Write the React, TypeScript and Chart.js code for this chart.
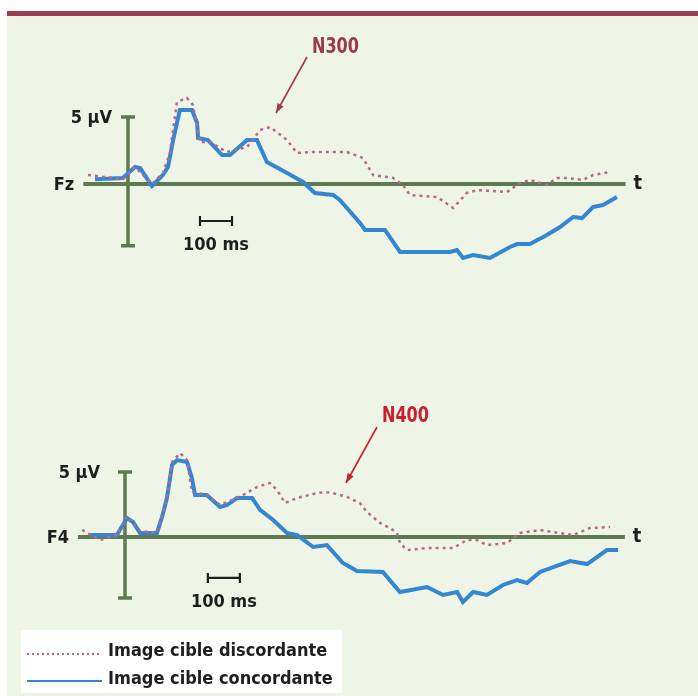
import React, { useEffect, useRef } from "react";
import { Chart, registerables } from "chart.js";
Chart.register(...registerables);

// ---- data (time in ms, amplitude in µV) ----
const topBlueTimes = [-103, -16, 22, 38, 75, 109, 125, 141, 162, 200, 216, 219, 250, 294, 319, 372, 403, 434, 497, 547, 584, 641, 662, 725, 741, 803, 850, 1006, 1028, 1047, 1078, 1131, 1194, 1216, 1256, 1309, 1350, 1391, 1419, 1453, 1484, 1528];
const topBlueValues = [0.35, 0.45, 1.27, 1.19, -0.15, 0.67, 1.27, 3.28, 5.52, 5.52, 4.55, 3.43, 3.28, 2.16, 2.16, 3.28, 3.28, 1.64, 0.82, 0.15, -0.67, -0.82, -1.19, -2.91, -3.43, -3.43, -5.07, -5.07, -4.93, -5.52, -5.3, -5.52, -4.7, -4.48, -4.48, -3.81, -3.21, -2.46, -2.54, -1.72, -1.57, -0.97];

const topPinkTimes = [-125, -16, 22, 75, 109, 131, 153, 184, 203, 225, 256, 309, 372, 413, 444, 497, 528, 578, 641, 684, 734, 766, 828, 859, 881, 966, 1016, 1059, 1091, 1184, 1225, 1256, 1309, 1341, 1372, 1422, 1453, 1506];
const topPinkValues = [0.67, 0.37, 1.27, 0, 0.82, 2.31, 6.12, 6.42, 5.9, 3.13, 3.13, 2.39, 2.76, 4.03, 4.25, 3.28, 2.31, 2.39, 2.39, 2.39, 1.94, 0.67, 0.45, -0.07, -0.82, -0.97, -1.79, -0.67, -0.45, -0.6, 0.07, 0.3, -0.07, 0.45, 0.45, 0.3, 0.67, 0.9];

const botBlueTimes = [-109, -25, 6, 25, 47, 100, 116, 131, 147, 163, 194, 209, 219, 256, 297, 319, 350, 397, 422, 463, 506, 538, 588, 631, 681, 725, 806, 859, 944, 994, 1038, 1056, 1088, 1131, 1181, 1225, 1256, 1297, 1391, 1444, 1506, 1541];
const botBlueValues = [0.15, 0.15, 1.46, 1.15, 0.31, 0.31, 1.54, 3.0, 5.54, 5.92, 5.77, 4.54, 3.23, 3.23, 2.31, 2.46, 3.0, 3.0, 2.08, 1.31, 0.31, 0.15, -0.77, -0.62, -2.0, -2.62, -2.69, -4.23, -3.85, -4.46, -4.23, -5.0, -4.23, -4.46, -3.69, -3.31, -3.54, -2.69, -1.85, -2.08, -1.0, -1.0];

const botPinkTimes = [-134, -78, -25, 6, 47, 100, 131, 147, 172, 194, 209, 256, 297, 369, 413, 453, 475, 500, 538, 600, 625, 650, 694, 734, 756, 797, 828, 850, 859, 881, 944, 1025, 1069, 1100, 1131, 1194, 1234, 1297, 1338, 1400, 1453, 1516];
const botPinkValues = [0.54, -0.23, 0.15, 1.6, 0.46, 0.31, 3.0, 5.77, 6.46, 5.92, 3.46, 3.23, 2.46, 3.23, 3.85, 4.15, 3.62, 2.62, 3.0, 3.38, 3.46, 3.38, 3.08, 2.62, 1.92, 1.08, 0.69, 0.31, -0.46, -1.0, -0.85, -0.85, -0.23, -0.23, -0.62, -0.46, 0.31, 0.54, 0.38, 0.15, 0.69, 0.77];

// axis extents and labels
const topBaseline = [-140, 1555];
const botBaseline = [-147, 1562];
const topVAxis = [5, -4.6];
const botVAxis = [5, -4.7];
const topScaleBar = [225, 325];
const botScaleBar = [259, 359];
const topScaleBarLevel = -2.76;
const botScaleBarLevel = -3.15;
const channelLabels = ["Fz", "F4"];
const peakLabels = ["N300", "N400"];
const legendLabels = ["Image cible discordante", "Image cible concordante"];
const ampLabel = "5 µV";
const timeLabel = "100 ms";

// ---- layout (page pixels) ----
const W = 698;
const H = 696;
const MS_PX = 0.32;
const TOP = { zeroX: 128, zeroY: 184, uvPx: 13.4 };
const BOT = { zeroX: 125, zeroY: 537, uvPx: 13.0 };

const BLUE = "#3386cf";
const PINK = "#b8688e";
const GREEN = "#5d7b50";
const INK = "#1e1e1e";
const FONT = '"DejaVu Sans Condensed", "DejaVu Sans", sans-serif';

const pts = (t: number[], v: number[]) => t.map((x, i) => ({ x, y: v[i] }));

const overlay = {
  id: "overlay",
  beforeDraw(chart: any) {
    const ctx = chart.ctx;
    ctx.save();
    ctx.fillStyle = "#ffffff";
    ctx.fillRect(0, 0, W, H);
    ctx.fillStyle = "#973f4d";
    ctx.fillRect(7, 11, W - 7, 5);
    ctx.fillStyle = "#eef5e6";
    ctx.fillRect(7, 16, W - 7, H - 16);
    ctx.restore();
  },
  beforeDatasetsDraw(chart: any) {
    const ctx = chart.ctx;
    const s = chart.scales;
    const panels = [
      { xs: s.xTop, ys: s.yTop, base: topBaseline, v: topVAxis },
      { xs: s.xBot, ys: s.yBot, base: botBaseline, v: botVAxis },
    ];
    ctx.save();
    ctx.strokeStyle = GREEN;
    ctx.lineCap = "butt";
    for (const p of panels) {
      const y0 = p.ys.getPixelForValue(0);
      const x0 = p.xs.getPixelForValue(0);
      ctx.lineWidth = 4;
      ctx.beginPath();
      ctx.moveTo(p.xs.getPixelForValue(p.base[0]), y0);
      ctx.lineTo(p.xs.getPixelForValue(p.base[1]), y0);
      ctx.stroke();
      const yt = p.ys.getPixelForValue(p.v[0]);
      const yb = p.ys.getPixelForValue(p.v[1]);
      ctx.lineWidth = 3.5;
      ctx.beginPath();
      ctx.moveTo(x0, yt);
      ctx.lineTo(x0, yb);
      ctx.moveTo(x0 - 7, yt);
      ctx.lineTo(x0 + 7, yt);
      ctx.moveTo(x0 - 7, yb);
      ctx.lineTo(x0 + 7, yb);
      ctx.stroke();
    }
    ctx.restore();
  },
  afterDatasetsDraw(chart: any) {
    const ctx = chart.ctx;
    const s = chart.scales;
    const panels = [
      { xs: s.xTop, ys: s.yTop, base: topBaseline, v: topVAxis, bar: topScaleBar, barV: topScaleBarLevel, ch: channelLabels[0], ampDx: 16 },
      { xs: s.xBot, ys: s.yBot, base: botBaseline, v: botVAxis, bar: botScaleBar, barV: botScaleBarLevel, ch: channelLabels[1], ampDx: 25 },
    ];
    ctx.save();
    ctx.fillStyle = INK;
    ctx.strokeStyle = INK;
    ctx.textBaseline = "middle";
    for (const p of panels) {
      const y0 = p.ys.getPixelForValue(0);
      const x0 = p.xs.getPixelForValue(0);
      const xl = p.xs.getPixelForValue(p.base[0]);
      const xr = p.xs.getPixelForValue(p.base[1]);
      ctx.font = `bold 18px ${FONT}`;
      ctx.textAlign = "right";
      ctx.fillText(p.ch, xl - 9, y0 + 1);
      ctx.fillText(ampLabel, x0 - p.ampDx, p.ys.getPixelForValue(p.v[0]) + 1);
      ctx.textAlign = "left";
      ctx.font = `bold 20px ${FONT}`;
      ctx.fillText("t", xr + 8, y0);
      // scale bar
      const bx1 = p.xs.getPixelForValue(p.bar[0]);
      const bx2 = p.xs.getPixelForValue(p.bar[1]);
      const by = p.ys.getPixelForValue(p.barV);
      ctx.lineWidth = 2.2;
      ctx.beginPath();
      ctx.moveTo(bx1, by);
      ctx.lineTo(bx2, by);
      ctx.moveTo(bx1, by - 5);
      ctx.lineTo(bx1, by + 5);
      ctx.moveTo(bx2, by - 5);
      ctx.lineTo(bx2, by + 5);
      ctx.stroke();
      ctx.font = `bold 18px ${FONT}`;
      ctx.textAlign = "center";
      ctx.fillText(timeLabel, (bx1 + bx2) / 2, by + 24);
    }
    // peak annotations
    const arrows = [
      { text: peakLabels[0], color: "#9a3b4b", tx: 312, ty: 48, x1: 307, y1: 57, x2: 276, y2: 113 },
      { text: peakLabels[1], color: "#c8202c", tx: 382, ty: 417, x1: 377, y1: 427, x2: 346, y2: 483 },
    ];
    for (const a of arrows) {
      ctx.fillStyle = a.color;
      ctx.strokeStyle = a.color;
      ctx.font = `bold 21px ${FONT}`;
      ctx.textAlign = "left";
      ctx.save();
      ctx.translate(a.tx, a.ty);
      ctx.scale(0.85, 1);
      ctx.fillText(a.text, 0, 0);
      ctx.restore();
      ctx.lineWidth = 1.6;
      ctx.beginPath();
      ctx.moveTo(a.x1, a.y1);
      ctx.lineTo(a.x2, a.y2);
      ctx.stroke();
      const ang = Math.atan2(a.y2 - a.y1, a.x2 - a.x1);
      const L = 10;
      ctx.beginPath();
      ctx.moveTo(a.x2, a.y2);
      ctx.lineTo(a.x2 - L * Math.cos(ang - 0.35), a.y2 - L * Math.sin(ang - 0.35));
      ctx.lineTo(a.x2 - L * Math.cos(ang + 0.35), a.y2 - L * Math.sin(ang + 0.35));
      ctx.closePath();
      ctx.fill();
    }
    // legend
    ctx.fillStyle = "#ffffff";
    ctx.fillRect(21, 630, 321, 63);
    ctx.lineWidth = 2;
    ctx.strokeStyle = PINK;
    ctx.setLineDash([2, 3]);
    ctx.beginPath();
    ctx.moveTo(27, 654);
    ctx.lineTo(101, 654);
    ctx.stroke();
    ctx.setLineDash([]);
    ctx.strokeStyle = BLUE;
    ctx.beginPath();
    ctx.moveTo(27, 681);
    ctx.lineTo(102, 681);
    ctx.stroke();
    ctx.fillStyle = INK;
    ctx.font = `bold 18px ${FONT}`;
    ctx.textAlign = "left";
    ctx.fillText(legendLabels[0], 108, 651);
    ctx.fillText(legendLabels[1], 108, 679);
    ctx.restore();
  },
};

export default function App() {
  const ref = useRef<HTMLCanvasElement>(null);
  useEffect(() => {
    document.body.style.margin = "0";
    document.body.style.overflow = "hidden";
    if (!ref.current) return;
    const lin = (zero: number, pxPer: number, size: number) => ({ min: -zero / pxPer, max: (size - zero) / pxPer });
    const xTop = lin(TOP.zeroX, MS_PX, W);
    const xBot = lin(BOT.zeroX, MS_PX, W);
    const yTop = { min: -(H - TOP.zeroY) / TOP.uvPx, max: TOP.zeroY / TOP.uvPx };
    const yBot = { min: -(H - BOT.zeroY) / BOT.uvPx, max: BOT.zeroY / BOT.uvPx };
    const hidden = { display: false, grid: { display: false } };
    const chart = new Chart(ref.current, {
      type: "line",
      data: {
        datasets: [
          { label: legendLabels[0], data: pts(topPinkTimes, topPinkValues), xAxisID: "xTop", yAxisID: "yTop", borderColor: PINK, borderWidth: 2.5, borderDash: [3, 4], pointRadius: 0, fill: false, tension: 0 },
          { label: legendLabels[1], data: pts(topBlueTimes, topBlueValues), xAxisID: "xTop", yAxisID: "yTop", borderColor: BLUE, borderWidth: 4, pointRadius: 0, fill: false, tension: 0 },
          { label: legendLabels[0], data: pts(botPinkTimes, botPinkValues), xAxisID: "xBot", yAxisID: "yBot", borderColor: PINK, borderWidth: 2.5, borderDash: [3, 4], pointRadius: 0, fill: false, tension: 0 },
          { label: legendLabels[1], data: pts(botBlueTimes, botBlueValues), xAxisID: "xBot", yAxisID: "yBot", borderColor: BLUE, borderWidth: 4, pointRadius: 0, fill: false, tension: 0 },
        ],
      },
      options: {
        responsive: false,
        animation: false,
        devicePixelRatio: 1,
        layout: { padding: 0 },
        plugins: { legend: { display: false }, tooltip: { enabled: false }, title: { display: false } },
        scales: {
          xTop: { type: "linear", ...xTop, ...hidden },
          xBot: { type: "linear", ...xBot, ...hidden },
          yTop: { type: "linear", ...yTop, ...hidden },
          yBot: { type: "linear", ...yBot, ...hidden },
        },
      },
      plugins: [overlay],
    } as any);
    return () => chart.destroy();
  }, []);
  return <canvas ref={ref} width={W} height={H} style={{ display: "block", width: W, height: H }} />;
}
